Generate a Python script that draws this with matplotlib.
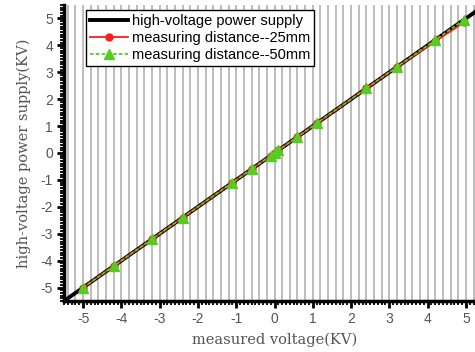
import matplotlib
matplotlib.use("Agg")
import matplotlib.pyplot as plt
import numpy as np
from matplotlib.ticker import MultipleLocator

# Data
hv_x = [-5.5, 5.5]
hv_y = [-5.5, 5.5]
x_25 = [-5.0, -4.2, -3.2, -2.4, -1.1, -0.6, -0.1, 0.0, 0.1, 0.6, 1.1, 2.4, 3.2, 4.2, 4.95]
y_25 = [-5.0, -4.2, -3.2, -2.4, -1.1, -0.6, -0.1, 0.0, 0.1, 0.6, 1.1, 2.4, 3.2, 4.15, 4.85]
x_50 = [-5.0, -4.2, -3.2, -2.4, -1.1, -0.6, -0.1, 0.0, 0.1, 0.6, 1.1, 2.4, 3.2, 4.2, 4.95]
y_50 = [-5.0, -4.2, -3.2, -2.4, -1.1, -0.6, -0.1, 0.0, 0.1, 0.6, 1.1, 2.4, 3.2, 4.2, 4.95]
xticks = [-5, -4, -3, -2, -1, 0, 1, 2, 3, 4, 5]
yticks = [-5, -4, -3, -2, -1, 0, 1, 2, 3, 4, 5]
labels = ["high-voltage power supply", "measuring distance--25mm", "measuring distance--50mm"]

fig = plt.figure(figsize=(4.75, 3.52), dpi=100)
ax = fig.add_axes([64/475, 51/352, 421/475, 296/352])

ax.set_xlim(-5.5, 5.5)
ax.set_ylim(-5.5, 5.5)

ax.xaxis.set_minor_locator(MultipleLocator(0.1))
ax.yaxis.set_minor_locator(MultipleLocator(0.1))
for gx in np.arange(-5.4, 5.5, 0.2):
    ax.axvline(gx, color="#bdbdbd", lw=1.4, zorder=0)

ax.plot(hv_x, hv_y, color="black", lw=2.8, label=labels[0], zorder=2)
ax.plot(x_25, y_25, color="#ff1a1a", lw=1.3, marker="o", ms=5, label=labels[1], zorder=3)
ax.plot(x_50, y_50, color="#55cc22", lw=1.3, ls=(0, (2, 1.2)), marker="^", ms=7,
        label=labels[2], zorder=4)

ax.set_xticks(xticks)
ax.set_yticks(yticks)
ax.set_xticklabels([str(t) for t in xticks], family="Liberation Sans", fontsize=10, color="#555555")
ax.set_yticklabels([str(t) for t in yticks], family="Liberation Sans", fontsize=10, color="#555555")

for s in ["top", "right"]:
    ax.spines[s].set_visible(False)
for s in ["left", "bottom"]:
    ax.spines[s].set_linewidth(2.5)
ax.tick_params(which="major", direction="out", length=5, width=2, pad=3)
ax.tick_params(which="minor", direction="out", length=3, width=1.3)

ax.set_xlabel("measured voltage(KV)", family="DejaVu Serif", fontsize=10.5, color="#555555", labelpad=5)
ax.set_ylabel("high-voltage power supply(KV)", family="DejaVu Serif", fontsize=10.5, color="#555555", labelpad=7)

leg = ax.legend(loc="upper left", bbox_to_anchor=(86/475, 1 - 10/352), bbox_transform=fig.transFigure,
                prop={"family": "Liberation Sans", "size": 10.5}, frameon=True, fancybox=False,
                framealpha=1, edgecolor="black", handlelength=2.6, handletextpad=0.3,
                borderpad=0.25, labelspacing=0.22, borderaxespad=0)
leg.get_frame().set_linewidth(1.0)

fig.savefig("out.png", dpi=100)
